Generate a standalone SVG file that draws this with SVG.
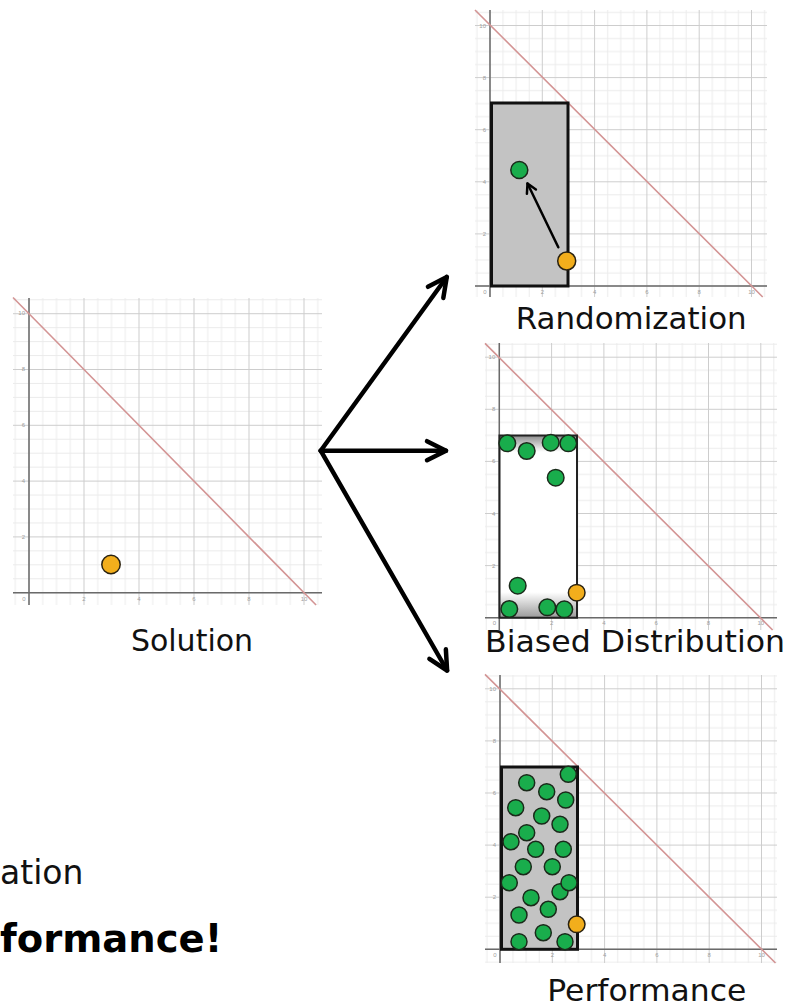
<svg xmlns="http://www.w3.org/2000/svg" width="788" height="1007" viewBox="0 0 788 1007">
<style>
.lbl{font-family:"DejaVu Sans",Verdana,sans-serif;font-size:30px;fill:#111}
.body{font-family:"DejaVu Sans",Verdana,sans-serif;font-size:33px;fill:#111}
.bold{font-family:"DejaVu Sans",Verdana,sans-serif;font-size:38.5px;font-weight:bold;fill:#000}
.tk{font-family:"Liberation Sans",Arial,sans-serif;font-size:6px;fill:#a0a0a0}
.tky{text-anchor:end}
.tkx{text-anchor:middle}
.ax{stroke:#6a6a6a;stroke-width:1.5;fill:none}
.red{stroke:#d39494;stroke-width:1.6;fill:none}
.g{fill:#19ad4c;stroke:#1a2a1a;stroke-width:1.5}
.o{fill:#f2ae1c;stroke:#2a2210;stroke-width:1.5}
.box{fill:#c3c3c3;stroke:#111;stroke-width:3}
.big{stroke:#000;stroke-width:4.5;fill:none;stroke-linecap:round}
.mn{stroke:#ebebeb;stroke-width:1}
.mj{fill:#cdcdcd}
</style>
<defs>
<marker id="ah" markerUnits="userSpaceOnUse" viewBox="-26 -14 30 28" refX="0" refY="0" markerWidth="30" markerHeight="28" orient="auto" overflow="visible">
<path d="M-19,-9.5 L0,0 L-19,9.5" fill="none" stroke="#000" stroke-width="4.5" stroke-linecap="round" stroke-linejoin="round"/>
</marker>
<marker id="ahs" markerUnits="userSpaceOnUse" viewBox="-12 -8 14 16" refX="0" refY="0" markerWidth="14" markerHeight="16" orient="auto" overflow="visible">
<path d="M-9,-5 L0,0 L-9,5" fill="none" stroke="#000" stroke-width="2.5" stroke-linecap="round" stroke-linejoin="round"/>
</marker>
<pattern id="gL" patternUnits="userSpaceOnUse" x="28.5" y="592.2" width="55" height="55.8">
<line class="mn" x1="14.25" y1="0" x2="14.25" y2="55.8"/><line class="mn" x1="28" y1="0" x2="28" y2="55.8"/><line class="mn" x1="41.75" y1="0" x2="41.75" y2="55.8"/>
<line class="mn" x1="0" y1="14.45" x2="55" y2="14.45"/><line class="mn" x1="0" y1="28.4" x2="55" y2="28.4"/><line class="mn" x1="0" y1="42.35" x2="55" y2="42.35"/>
<rect class="mj" x="0" y="0" width="1" height="55.8"/><rect class="mj" x="0" y="0" width="55" height="1"/>
</pattern>
<pattern id="gR1" patternUnits="userSpaceOnUse" x="489.5" y="285.5" width="52.3" height="52.1">
<line class="mn" x1="13.575" y1="0" x2="13.575" y2="52.1"/><line class="mn" x1="26.65" y1="0" x2="26.65" y2="52.1"/><line class="mn" x1="39.725" y1="0" x2="39.725" y2="52.1"/>
<line class="mn" x1="0" y1="13.525" x2="52.3" y2="13.525"/><line class="mn" x1="0" y1="26.55" x2="52.3" y2="26.55"/><line class="mn" x1="0" y1="39.575" x2="52.3" y2="39.575"/>
<rect class="mj" x="0" y="0" width="1" height="52.1"/><rect class="mj" x="0" y="0" width="52.3" height="1"/>
</pattern>
<pattern id="gR2" patternUnits="userSpaceOnUse" x="498.8" y="617.2" width="52.3" height="52.1">
<line class="mn" x1="13.575" y1="0" x2="13.575" y2="52.1"/><line class="mn" x1="26.65" y1="0" x2="26.65" y2="52.1"/><line class="mn" x1="39.725" y1="0" x2="39.725" y2="52.1"/>
<line class="mn" x1="0" y1="13.525" x2="52.3" y2="13.525"/><line class="mn" x1="0" y1="26.55" x2="52.3" y2="26.55"/><line class="mn" x1="0" y1="39.575" x2="52.3" y2="39.575"/>
<rect class="mj" x="0" y="0" width="1" height="52.1"/><rect class="mj" x="0" y="0" width="52.3" height="1"/>
</pattern>
<pattern id="gR3" patternUnits="userSpaceOnUse" x="499.5" y="948.8" width="52.3" height="52.1">
<line class="mn" x1="13.575" y1="0" x2="13.575" y2="52.1"/><line class="mn" x1="26.65" y1="0" x2="26.65" y2="52.1"/><line class="mn" x1="39.725" y1="0" x2="39.725" y2="52.1"/>
<line class="mn" x1="0" y1="13.525" x2="52.3" y2="13.525"/><line class="mn" x1="0" y1="26.55" x2="52.3" y2="26.55"/><line class="mn" x1="0" y1="39.575" x2="52.3" y2="39.575"/>
<rect class="mj" x="0" y="0" width="1" height="52.1"/><rect class="mj" x="0" y="0" width="52.3" height="1"/>
</pattern>
<linearGradient id="fade" x1="0" y1="0" x2="0" y2="1">
<stop offset="0" stop-color="#8c8c8c"/><stop offset="0.09" stop-color="#ffffff"/><stop offset="0.86" stop-color="#ffffff"/><stop offset="1" stop-color="#9a9a9a"/>
</linearGradient>
</defs>
<rect width="788" height="1007" fill="#fff"/>

<g id="solution">
<rect x="13" y="298" width="309" height="307" fill="#fff"/>
<rect x="13" y="298" width="309" height="307" fill="url(#gL)"/>
<line class="ax" x1="29" y1="298" x2="29" y2="605"/>
<line class="ax" x1="13" y1="592.7" x2="322" y2="592.7"/>
<g class="tk tky"><text x="25" y="315.3">10</text><text x="25" y="371.1">8</text><text x="25" y="426.9">6</text><text x="25" y="482.7">4</text><text x="25" y="538.5">2</text></g>
<g class="tk tkx"><text x="24" y="600.5">0</text><text x="84" y="600.5">2</text><text x="139" y="600.5">4</text><text x="194" y="600.5">6</text><text x="249" y="600.5">8</text><text x="304" y="600.5">10</text></g>
<line class="red" x1="13" y1="297.5" x2="316.1" y2="605"/>
<circle class="o" cx="111" cy="564.5" r="9.2"/>
<text class="lbl" x="192" y="651" text-anchor="middle">Solution</text>
</g>

<g id="randomization">
<rect x="475" y="10" width="292" height="287" fill="#fff"/>
<rect x="475" y="10" width="292" height="287" fill="url(#gR1)"/>
<line class="ax" x1="490" y1="10" x2="490" y2="297"/>
<line class="ax" x1="475" y1="286" x2="767" y2="286"/>
<g class="tk tky"><text x="486" y="27.5">10</text><text x="486" y="79.6">8</text><text x="486" y="131.7">6</text><text x="486" y="183.8">4</text><text x="486" y="235.9">2</text></g>
<g class="tk tkx"><text x="485" y="293.5">0</text><text x="542.3" y="293.5">2</text><text x="594.6" y="293.5">4</text><text x="646.9" y="293.5">6</text><text x="699.2" y="293.5">8</text><text x="751.5" y="293.5">10</text></g>
<line class="red" x1="475" y1="10" x2="762.7" y2="297"/>
<rect class="box" x="491.5" y="103" width="76.5" height="183"/>
<circle class="g" cx="519.3" cy="170" r="8.5"/>
<line x1="558.3" y1="247.3" x2="527.5" y2="183.5" stroke="#000" stroke-width="2.5" stroke-linecap="round" marker-end="url(#ahs)"/>
<circle class="o" cx="566.7" cy="261" r="9"/>
<text class="lbl" x="515.7" y="329" textLength="231" lengthAdjust="spacingAndGlyphs">Randomization</text>
</g>

<g id="biased">
<rect x="485" y="343" width="292" height="287" fill="#fff"/>
<rect x="485" y="343" width="292" height="287" fill="url(#gR2)"/>
<line class="ax" x1="499.3" y1="343" x2="499.3" y2="630"/>
<line class="ax" x1="485" y1="617.7" x2="777" y2="617.7"/>
<g class="tk tky"><text x="495.3" y="359.2">10</text><text x="495.3" y="411.3">8</text><text x="495.3" y="463.4">6</text><text x="495.3" y="515.5">4</text><text x="495.3" y="567.6">2</text></g>
<g class="tk tkx"><text x="494.3" y="625">0</text><text x="551.6" y="625">2</text><text x="603.9" y="625">4</text><text x="656.2" y="625">6</text><text x="708.5" y="625">8</text><text x="760.8" y="625">10</text></g>
<line class="red" x1="485" y1="343.4" x2="772.6" y2="630"/>
<rect x="499.5" y="435.5" width="77.5" height="182.2" fill="url(#fade)" stroke="#222" stroke-width="2"/>
<circle class="g" cx="507.3" cy="443.3" r="8.3"/>
<circle class="g" cx="526.7" cy="451" r="8.3"/>
<circle class="g" cx="550.7" cy="442.7" r="8.3"/>
<circle class="g" cx="568.3" cy="443.3" r="8.3"/>
<circle class="g" cx="555.7" cy="477.7" r="8.3"/>
<circle class="g" cx="517.7" cy="585.7" r="8.3"/>
<circle class="g" cx="509.3" cy="609" r="8.3"/>
<circle class="g" cx="547.3" cy="607.3" r="8.3"/>
<circle class="g" cx="564.3" cy="609.3" r="8.3"/>
<circle class="o" cx="576.7" cy="592.7" r="8.3"/>
<text class="lbl" x="485" y="652" textLength="300" lengthAdjust="spacingAndGlyphs">Biased Distribution</text>
</g>

<g id="performance">
<rect x="485" y="675" width="292" height="288" fill="#fff"/>
<rect x="485" y="675" width="292" height="288" fill="url(#gR3)"/>
<line class="ax" x1="500" y1="675" x2="500" y2="963"/>
<line class="ax" x1="485" y1="949.3" x2="777" y2="949.3"/>
<g class="tk tky"><text x="496" y="690.8">10</text><text x="496" y="742.9">8</text><text x="496" y="795">6</text><text x="496" y="847.1">4</text><text x="496" y="899.2">2</text></g>
<g class="tk tkx"><text x="495" y="956.5">0</text><text x="552.3" y="956.5">2</text><text x="604.6" y="956.5">4</text><text x="656.9" y="956.5">6</text><text x="709.2" y="956.5">8</text><text x="761.5" y="956.5">10</text></g>
<line class="red" x1="485" y1="674.4" x2="775.5" y2="963"/>
<rect class="box" x="501.5" y="767" width="76" height="182.3"/>
<circle class="g" cx="568.3" cy="774.3" r="8"/>
<circle class="g" cx="526.7" cy="782.7" r="8"/>
<circle class="g" cx="546.7" cy="791.7" r="8"/>
<circle class="g" cx="565.7" cy="800" r="8"/>
<circle class="g" cx="515.7" cy="807.7" r="8"/>
<circle class="g" cx="541.7" cy="816" r="8"/>
<circle class="g" cx="560" cy="824.3" r="8"/>
<circle class="g" cx="526.7" cy="832.7" r="8"/>
<circle class="g" cx="511" cy="841.7" r="8"/>
<circle class="g" cx="535.7" cy="849.3" r="8"/>
<circle class="g" cx="563.3" cy="849.3" r="8"/>
<circle class="g" cx="523.3" cy="866.7" r="8"/>
<circle class="g" cx="552.3" cy="866.7" r="8"/>
<circle class="g" cx="509.3" cy="882.7" r="8"/>
<circle class="g" cx="560" cy="891.7" r="8"/>
<circle class="g" cx="569" cy="882.7" r="8"/>
<circle class="g" cx="531" cy="897.7" r="8"/>
<circle class="g" cx="548.3" cy="909.3" r="8"/>
<circle class="g" cx="519" cy="915" r="8"/>
<circle class="g" cx="543.3" cy="932.7" r="8"/>
<circle class="g" cx="519" cy="941.7" r="8"/>
<circle class="g" cx="565" cy="941.7" r="8"/>
<circle class="o" cx="576.7" cy="924.3" r="8.3"/>
<text class="lbl" x="547.3" y="1001" textLength="199" lengthAdjust="spacingAndGlyphs">Performance</text>
</g>

<g id="connectors">
<line class="big" x1="320.7" y1="450.7" x2="446.8" y2="277" marker-end="url(#ah)"/>
<line class="big" x1="320.7" y1="450.7" x2="446" y2="450.7" marker-end="url(#ah)"/>
<line class="big" x1="320.7" y1="450.7" x2="447.1" y2="670.5" marker-end="url(#ah)"/>
</g>

<text class="body" x="0" y="884">ation</text>
<text class="bold" x="0" y="952">formance!</text>
</svg>
